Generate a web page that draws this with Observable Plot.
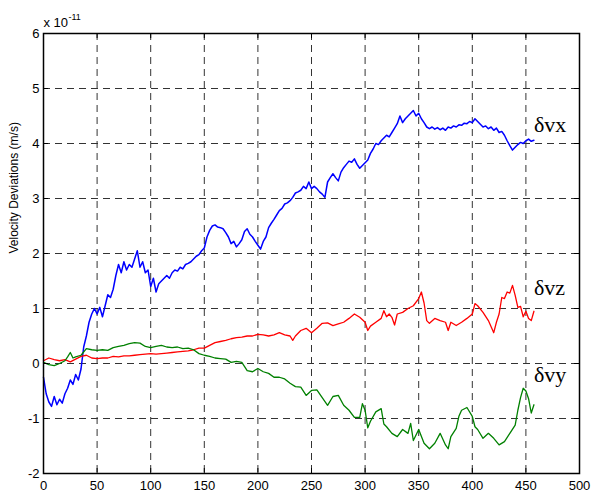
<!DOCTYPE html>
<html><head><meta charset="utf-8">
<script src="https://cdn.jsdelivr.net/npm/d3@7"></script>
<script src="https://cdn.jsdelivr.net/npm/@observablehq/plot@0.6"></script>
<style>body{margin:0;background:#fff}svg{display:block}</style>
</head><body><div id="chart"></div>
<script>
const xTicks = [0, 50, 100, 150, 200, 250, 300, 350, 400, 450, 500];
const yTicks = [-2, -1, 0, 1, 2, 3, 4, 5, 6];
const yLabel = "Velocity Deviations (m/s)";
const exponentBase = "x 10";
const exponentPower = "-11";
const seriesNames = ["δvx", "δvy", "δvz"];

// δvx (blue)
const vxT = [0,2.5,5,7.5,10,12.5,15,17.5,20,22.5,25,27.5,30,32.5,35,37.5,40,42.5,45,47.5,50,52.5,55,57.5,60,62.5,65,67.5,70,72.5,75,77.5,80,82.5,85,87.5,90,92.5,95,97.5,100,102.5,105,107.5,110,112.5,115,117.5,120,122.5,125,127.5,130,132.5,135,137.5,140,142.5,145,147.5,150,152.5,155,157.5,160,162.5,165,167.5,170,172.5,175,177.5,180,182.5,185,187.5,190,192.5,195,197.5,200,202.5,205,207.5,210,212.5,215,217.5,220,222.5,225,227.5,230,232.5,235,237.5,240,242.5,245,247.5,250,252.5,255,257.5,260,262.5,265,267.5,270,272.5,275,277.5,280,282.5,285,287.5,290,292.5,295,297.5,300,302.5,305,307.5,310,312.5,315,317.5,320,322.5,325,327.5,330,332.5,335,337.5,340,342.5,345,347.5,350,352.5,355,357.5,360,362.5,365,367.5,370,372.5,375,377.5,380,382.5,385,387.5,390,392.5,395,397.5,400,402.5,405,407.5,410,412.5,415,417.5,420,422.5,425,427.5,430,432.5,435,437.5,440,442.5,445,447.5,450,452.5,455,457.5];
const vxV = [-0.25,-0.55,-0.7,-0.78,-0.6,-0.75,-0.65,-0.72,-0.55,-0.45,-0.3,-0.38,-0.2,-0.3,-0.1,0.3,0.5,0.75,0.9,1.0,0.9,1.02,0.85,1.05,1.25,1.2,1.35,1.6,1.8,1.65,1.85,1.7,1.8,1.75,1.9,2.05,1.75,1.85,1.65,1.7,1.4,1.55,1.3,1.45,1.5,1.55,1.6,1.55,1.65,1.7,1.68,1.75,1.72,1.8,1.82,1.85,1.9,1.95,1.98,2.05,2.1,2.3,2.42,2.5,2.52,2.48,2.47,2.45,2.38,2.3,2.18,2.22,2.12,2.18,2.25,2.4,2.45,2.35,2.3,2.22,2.15,2.08,2.22,2.3,2.47,2.55,2.62,2.7,2.78,2.82,2.9,2.92,2.96,3.02,3.1,3.12,3.15,3.22,3.18,3.3,3.18,3.22,3.18,3.12,3.08,3.02,3.3,3.38,3.45,3.38,3.32,3.48,3.56,3.62,3.68,3.66,3.72,3.62,3.55,3.6,3.65,3.7,3.82,3.9,4.0,3.98,4.05,4.1,4.15,4.12,4.2,4.28,4.36,4.5,4.38,4.45,4.5,4.55,4.6,4.5,4.55,4.45,4.38,4.3,4.27,4.3,4.26,4.29,4.25,4.28,4.24,4.3,4.28,4.32,4.3,4.34,4.33,4.37,4.36,4.4,4.38,4.45,4.4,4.35,4.3,4.32,4.27,4.3,4.24,4.28,4.2,4.22,4.15,4.05,3.96,3.88,3.93,3.98,4.02,4.0,4.05,4.08,4.04,4.06];

// δvz (red)
const vzT = [0,5,10,15,20,25,30,35,40,45,50,55,60,65,70,75,80,85,90,95,100,105,110,115,120,125,130,135,140,145,150,155,160,165,170,175,180,185,190,195,200,205,210,215,220,225,230,232.5,235,240,245,250,255,260,265,270,275,280,285,290,295,300,302.5,305,310,315,317.5,320,322.5,325,327.5,330,335,340,345,350,352.5,355,357.5,360,365,370,375,377.5,380,385,390,395,400,402.5,405,410,415,420,422.5,425,427.5,430,432.5,435,437.5,440,442.5,445,447.5,450,452.5,455,457.5];
const vzV = [0.05,0.1,0.07,0.05,0.07,0.03,0.08,0.13,0.15,0.1,0.09,0.1,0.1,0.13,0.12,0.14,0.14,0.15,0.16,0.17,0.18,0.17,0.18,0.19,0.2,0.21,0.22,0.23,0.25,0.28,0.28,0.33,0.38,0.4,0.42,0.45,0.47,0.48,0.5,0.5,0.53,0.52,0.5,0.52,0.56,0.52,0.5,0.42,0.5,0.6,0.64,0.56,0.64,0.73,0.74,0.69,0.72,0.75,0.82,0.9,0.84,0.75,0.6,0.68,0.75,0.82,0.96,0.85,0.9,0.84,0.7,0.9,0.93,1.0,1.05,1.18,1.3,1.1,0.78,0.73,0.82,0.78,0.75,0.6,0.75,0.69,0.75,0.82,0.9,1.09,1.05,0.93,0.78,0.56,0.75,0.9,1.2,1.18,1.3,1.28,1.42,1.24,1.02,1.04,0.85,0.95,0.82,0.78,0.95];

// δvy (green)
const vyT = [0,5,10,15,20,22.5,25,27.5,30,35,40,45,50,55,60,65,70,75,80,85,90,95,100,105,110,115,120,125,130,135,140,145,150,155,160,165,170,175,180,185,190,195,200,205,210,215,220,225,230,235,240,245,250,255,260,265,270,275,280,285,290,295,297.5,300,302.5,305,310,315,317.5,320,325,330,335,340,342.5,345,350,355,360,365,370,375,377.5,380,385,387.5,390,395,400,402.5,405,410,415,420,425,430,435,440,442.5,445,447.5,450,452.5,455,457.5];
const vyV = [0.02,-0.02,-0.04,0.0,0.05,0.12,0.2,0.1,0.12,0.15,0.27,0.25,0.24,0.25,0.24,0.29,0.31,0.33,0.36,0.38,0.37,0.31,0.29,0.31,0.33,0.3,0.29,0.3,0.27,0.28,0.25,0.18,0.15,0.13,0.1,0.09,0.08,0.02,0.04,0.02,-0.13,-0.15,-0.09,-0.15,-0.18,-0.25,-0.25,-0.28,-0.36,-0.42,-0.43,-0.58,-0.49,-0.48,-0.62,-0.76,-0.6,-0.58,-0.76,-0.85,-0.98,-0.98,-0.73,-0.85,-1.17,-1.05,-0.88,-0.82,-1.1,-1.15,-1.27,-1.33,-1.2,-1.27,-1.09,-1.4,-1.2,-1.45,-1.55,-1.45,-1.27,-1.48,-1.55,-1.33,-1.18,-0.96,-0.85,-0.8,-0.96,-1.15,-1.2,-1.36,-1.27,-1.36,-1.48,-1.42,-1.27,-1.12,-0.85,-0.62,-0.45,-0.5,-0.64,-0.9,-0.75];

const toRows = (T, V) => T.map((t, i) => ({t, v: V[i]}));
const vx = toRows(vxT, vxV), vy = toRows(vyT, vyV), vz = toRows(vzT, vzV);
const last = a => [a[a.length - 1]];

const W = 592, H = 495, mL = 43, mR = 13, mT = 33, mB = 22;
const innerW = W - mL - mR, innerH = H - mT - mB, tickLen = 5;
const gridStyle = {stroke: "#333", strokeOpacity: 1, strokeWidth: 1, strokeDasharray: "7,5"};
const inner = xTicks.slice(1, -1), innerY = yTicks.slice(1, -1);
const serif = "'Liberation Serif', 'Times New Roman', serif";
const fmt = d => String(d);

const chart = Plot.plot({
  width: W, height: H,
  marginLeft: mL, marginRight: mR, marginTop: mT, marginBottom: mB,
  style: {fontFamily: "'Liberation Sans', Arial, Helvetica, sans-serif", fontSize: "13px", background: "#fff", color: "#000", overflow: "visible"},
  x: {domain: [0, 500]},
  y: {domain: [-2, 6]},
  marks: [
    Plot.gridX(inner, gridStyle),
    Plot.gridY(innerY, gridStyle),
    Plot.line(vx, {x: "t", y: "v", stroke: "#0000ff", strokeWidth: 1.5}),
    Plot.line(vz, {x: "t", y: "v", stroke: "#ff0000", strokeWidth: 1.3}),
    Plot.line(vy, {x: "t", y: "v", stroke: "#008000", strokeWidth: 1.3}),
    Plot.tickX(inner, {x: d => d, insetTop: innerH - tickLen, stroke: "#000"}),
    Plot.tickX(inner, {x: d => d, insetBottom: innerH - tickLen, stroke: "#000"}),
    Plot.tickY(innerY, {y: d => d, insetRight: innerW - tickLen, stroke: "#000"}),
    Plot.tickY(innerY, {y: d => d, insetLeft: innerW - tickLen, stroke: "#000"}),
    Plot.axisX(xTicks, {tickSize: 0, tickPadding: 7, label: null, fontSize: 13, tickFormat: fmt}),
    Plot.axisY(yTicks, {tickSize: 0, tickPadding: 4, label: null, fontSize: 13, tickFormat: fmt}),
    Plot.frame({stroke: "#000", strokeWidth: 1.5}),
    Plot.text([yLabel], {text: d => d, frameAnchor: "left", rotate: -90, dx: -29, fontSize: 12}),
    Plot.text([exponentBase], {text: d => d, frameAnchor: "top-left", textAnchor: "start", lineAnchor: "bottom", dy: -7, fontSize: 13}),
    Plot.text([exponentPower], {text: d => d, frameAnchor: "top-left", textAnchor: "start", lineAnchor: "bottom", dx: 25, dy: -14, fontSize: 9}),
    Plot.text(last(vx), {x: "t", y: "v", text: () => seriesNames[0], textAnchor: "start", dx: 0, dy: -15, fontSize: 22, fontFamily: serif}),
    Plot.text(last(vz), {x: "t", y: "v", text: () => seriesNames[2], textAnchor: "start", dx: 0, dy: -23, fontSize: 22, fontFamily: serif}),
    Plot.text(last(vy), {x: "t", y: "v", text: () => seriesNames[1], textAnchor: "start", dx: 0, dy: -30, fontSize: 22, fontFamily: serif})
  ]
});
document.getElementById("chart").appendChild(chart);
</script>
</body></html>
